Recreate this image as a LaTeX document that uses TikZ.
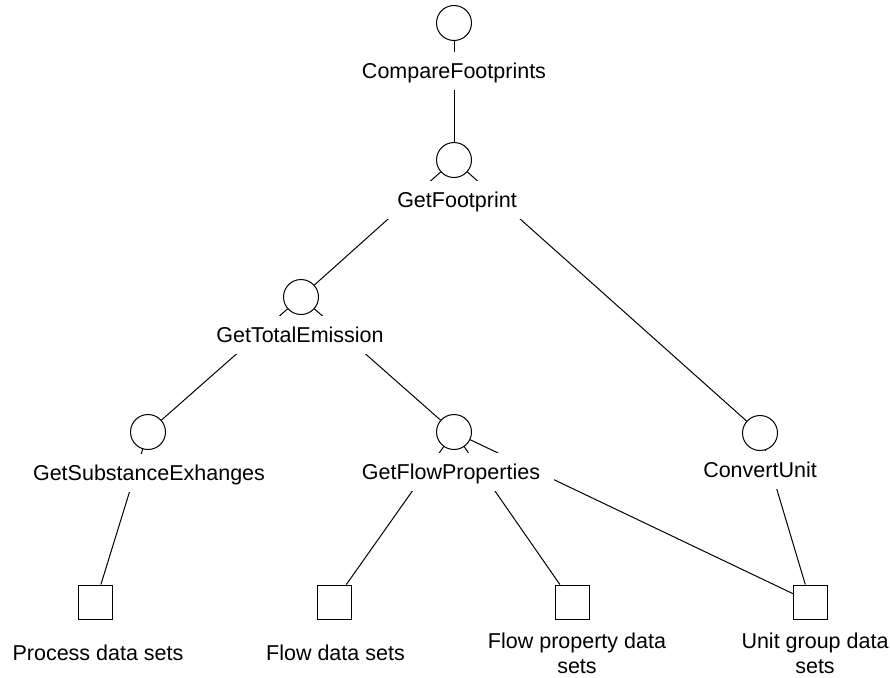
\documentclass[tikz,border=0pt]{standalone}
\usepackage{fontspec}
\setmainfont{Liberation Sans}
\begin{document}
\begin{tikzpicture}[x=1pt,y=-1pt,
  op/.style={circle,draw,line width=1pt,minimum size=35pt,inner sep=0pt},
  store/.style={rectangle,draw,line width=1pt,minimum size=34pt,inner sep=0pt},
  oplabel/.style={fill=white,inner xsep=14pt,inner ysep=0pt,text height=15.4pt,
    text depth=0pt,minimum height=38pt,font=\fontsize{21.5}{25}\selectfont},
  storelabel/.style={align=center,inner sep=0pt,anchor=north,
    font=\fontsize{21.5}{25}\selectfont},
  link/.style={line width=1pt}]
\useasboundingbox (0,0) rectangle (890,677);

% operations
\node[op] (cf)  at (454,23)  {};
\node[op] (gf)  at (454,160) {};
\node[op] (gte) at (301,297) {};
\node[op] (gse) at (148,432) {};
\node[op] (gfp) at (454,432) {};
\node[op] (cu)  at (760,433) {};

% data stores
\node[store] (pds)  at (95.5,602) {};
\node[store] (fds)  at (334,602)  {};
\node[store] (fpds) at (572,602)  {};
\node[store] (ugds) at (810.5,602) {};

% dependencies
\draw[link] (cf) -- (gf);
\draw[link] (gf) -- (gte);
\draw[link] (gf) -- (cu);
\draw[link] (gte) -- (gse);
\draw[link] (gte) -- (gfp);
\draw[link] (gse) -- (pds);
\draw[link] (gfp) -- (fds);
\draw[link] (gfp) -- (fpds);
\draw[link] (gfp) -- (ugds);
\draw[link] (cu) -- (ugds);

% operation names, covering the links beneath them
\node[oplabel] (cfl)  at (454,71)    {CompareFootprints};
\node[oplabel] (gfl)  at (457,200)   {GetFootprint};
\node[oplabel] (gtel) at (300,335)   {GetTotalEmission};
\node[oplabel] (gsel) at (149,472.5) {GetSubstanceExhanges};
\node[oplabel] (gfpl) at (451,471.5) {GetFlowProperties};
\node[oplabel] (cul)  at (760,470)   {ConvertUnit};

% data store names
\node[storelabel] (pdsl)  at (98,644.5)  {Process data sets};
\node[storelabel] (fdsl)  at (335.5,644.5) {Flow data sets};
\node[storelabel] (fpdsl) at (577,632.5) {Flow property data\\sets};
\node[storelabel] (ugdsl) at (815,632.5) {Unit group data\\sets};
\end{tikzpicture}
\end{document}
